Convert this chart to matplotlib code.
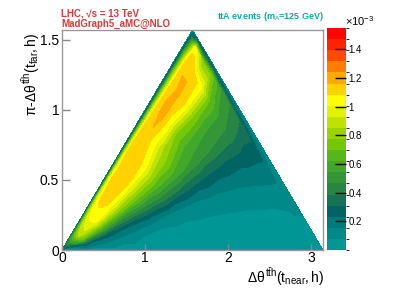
import numpy as np
import matplotlib
matplotlib.use('Agg')
import matplotlib.pyplot as plt
import matplotlib.tri as mtri
from matplotlib.colors import ListedColormap, BoundaryNorm
import matplotlib as mpl

plt.rcParams['font.family'] = ['Liberation Sans', 'DejaVu Sans']
plt.rcParams['mathtext.fontset'] = 'custom'
plt.rcParams['mathtext.rm'] = 'Liberation Sans'
plt.rcParams['mathtext.it'] = 'Liberation Sans'
plt.rcParams['mathtext.bf'] = 'Liberation Sans:bold'

# Grid on which the density was read: rays from the origin with slope y/x,
# and fraction of the way towards the right edge (x + y = fraction * pi)
ray_slopes = [0.0, 0.1, 0.2, 0.3, 0.4, 0.5, 0.6, 0.7, 0.8, 0.9, 0.95, 1.0]
edge_fractions = [0.02, 0.1, 0.2, 0.3, 0.4, 0.5, 0.6, 0.7, 0.8, 0.9, 0.97, 1.0]

# density (units of 1e-3), one list per ray slope, values along edge_fractions
dens_a000 = [0.05, 0.05, 0.05, 0.05, 0.05, 0.05, 0.05, 0.05, 0.05, 0.05, 0.06, 0.06]
dens_a010 = [0.10, 0.20, 0.15, 0.10, 0.05, 0.05, 0.05, 0.05, 0.05, 0.06, 0.08, 0.08]
dens_a020 = [0.15, 0.40, 0.28, 0.22, 0.19, 0.15, 0.13, 0.13, 0.14, 0.16, 0.17, 0.10]
dens_a030 = [0.20, 0.70, 0.58, 0.46, 0.44, 0.42, 0.36, 0.31, 0.28, 0.27, 0.27, 0.10]
dens_a040 = [0.25, 0.80, 0.84, 0.76, 0.70, 0.65, 0.60, 0.52, 0.46, 0.42, 0.36, 0.10]
dens_a050 = [0.30, 0.88, 1.03, 0.97, 0.91, 0.86, 0.76, 0.62, 0.56, 0.53, 0.45, 0.10]
dens_a060 = [0.35, 0.85, 1.05, 1.10, 1.10, 1.06, 0.88, 0.76, 0.76, 0.70, 0.55, 0.10]
dens_a070 = [0.35, 0.80, 1.06, 1.13, 1.14, 1.12, 1.05, 1.05, 1.08, 1.05, 0.75, 0.10]
dens_a080 = [0.35, 0.65, 1.00, 1.12, 1.14, 1.15, 1.15, 1.20, 1.18, 1.15, 0.75, 0.10]
dens_a090 = [0.35, 0.45, 0.75, 0.95, 1.05, 1.10, 1.10, 1.12, 1.12, 1.15, 1.05, 0.10]
dens_a095 = [0.25, 0.30, 0.45, 0.60, 0.70, 0.75, 0.75, 0.75, 0.75, 0.75, 0.60, 0.10]
dens_a100 = [0.08, 0.08, 0.08, 0.08, 0.08, 0.08, 0.08, 0.08, 0.08, 0.08, 0.08, 0.08]
origin_density = 0.30

density_rows = [dens_a000, dens_a010, dens_a020, dens_a030, dens_a040, dens_a050,
                dens_a060, dens_a070, dens_a080, dens_a090, dens_a095, dens_a100]

cbar_ticks = [0.2, 0.4, 0.6, 0.8, 1.0, 1.2, 1.4]
cbar_ticklabels = ['0.2', '0.4', '0.6', '0.8', '1', '1.2', '1.4']
zmax = 1.55

palette = ['#009696', '#008989', '#007a7a', '#006464', '#157257', '#288645',
           '#349636', '#40a82a', '#56b61a', '#74c808', '#9ad400', '#c0e200',
           '#e2f200', '#ffff00', '#ffd200', '#ffaa00', '#ff7d00', '#ff4b00',
           '#ff2300', '#ff0500']

# ---- build mesh ----
A = np.array(ray_slopes)
R = np.array(edge_fractions)
na, nr = len(A), len(R)
AA, RR = np.meshgrid(A, R, indexing='ij')
X = RR * np.pi / (1.0 + AA)
Y = AA * X
Z = np.array(density_rows)

xs = np.concatenate([X.ravel(), [0.0]])
ys = np.concatenate([Y.ravel(), [0.0]])
zs = np.concatenate([Z.ravel(), [origin_density]])
orig = na * nr
tris = []
for i in range(na - 1):
    for j in range(nr - 1):
        p00 = i * nr + j
        p10 = (i + 1) * nr + j
        p01 = i * nr + j + 1
        p11 = (i + 1) * nr + j + 1
        tris.append([p00, p10, p11])
        tris.append([p00, p11, p01])
    tris.append([orig, i * nr, (i + 1) * nr])
tri = mtri.Triangulation(xs, ys, np.array(tris))

fig = plt.figure(figsize=(4.07, 2.94), dpi=100)
ax = fig.add_axes([62 / 407, 44 / 294, 261 / 407, 220 / 294])
levels = np.linspace(0, zmax, len(palette) + 1)
cmap = ListedColormap(palette)
norm = BoundaryNorm(levels, cmap.N)
ax.tricontourf(tri, zs, levels=levels, cmap=cmap, norm=norm)

ax.set_xlim(0, np.pi)
ax.set_ylim(0, np.pi / 2)
ax.set_xticks([0, 1, 2, 3])
ax.set_xticklabels(['0', '1', '2', '3'])
ax.set_yticks([0, 0.5, 1, 1.5])
ax.set_yticklabels(['0', '0.5', '1', '1.5'])
ax.tick_params(direction='in', length=6, width=1, color='#888888',
               labelsize=10, pad=2)
ax.tick_params(axis='x', length=4, pad=1)
for s in ax.spines.values():
    s.set_color('#999999')
    s.set_linewidth(1)

# axis titles
fig.text(324 / 407, 6 / 294, r'$\Delta\theta^{t\bar{t}h}(\mathrm{t}_{\mathrm{near}},\mathrm{h})$',
         ha='right', va='bottom', fontsize=10)
fig.text(31 / 407, 1 - 33 / 294, r'$\pi\text{-}\Delta\theta^{t\bar{t}h}(\mathrm{t}_{\mathrm{far}},\mathrm{h})$',
         ha='center', va='top', rotation=90, fontsize=10)

# header texts
fig.text(61 / 407, 1 - 17 / 294, 'LHC, \u221As = 13 TeV', color='#d23c3c',
         fontsize=7, fontweight='bold', ha='left', va='baseline')
fig.text(61 / 407, 1 - 27 / 294, 'MadGraph5_aMC@NLO', color='#d23c3c',
         fontsize=7, fontweight='bold', ha='left', va='baseline')
fig.text(324 / 407, 1 - 19 / 294, r'ttA events (m$_{\mathrm{A}}$=125 GeV)', color='#19a5a5',
         fontsize=6.5, fontweight='bold', ha='right', va='baseline')

# colorbar
cax = fig.add_axes([327 / 407, 44 / 294, 19 / 407, 222 / 294])
cb = mpl.colorbar.ColorbarBase(cax, cmap=cmap, norm=norm, boundaries=levels,
                               ticks=cbar_ticks, spacing='proportional')
cb.outline.set_visible(False)
cb.set_ticklabels(cbar_ticklabels)
cax.tick_params(direction='in', length=8, width=1, color='black', labelsize=7, pad=2)
fig.text(345 / 407, 1 - 26 / 294, r'$\times$10$^{-3}$', fontsize=8, ha='left', va='baseline')

fig.savefig('out.png', dpi=100)
